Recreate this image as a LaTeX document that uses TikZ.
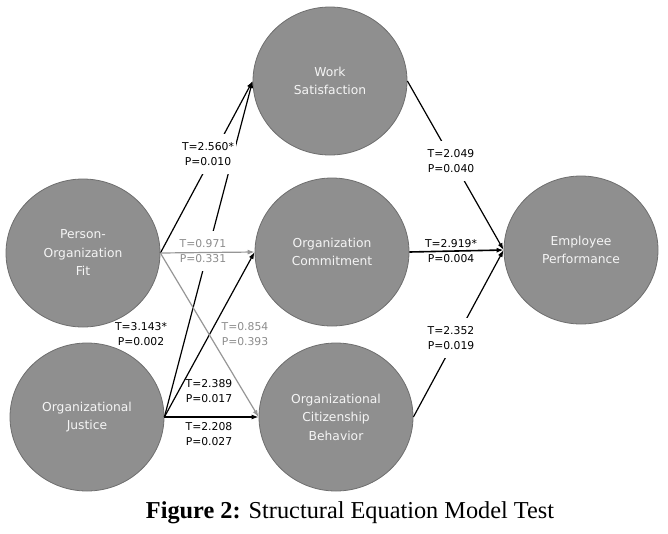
\documentclass[tikz,border=0pt]{standalone}
\usepackage{fontspec}
\setmainfont{Liberation Serif}
\newfontfamily\lblfont{DejaVu Sans}
\usetikzlibrary{shapes.geometric,arrows.meta}
\definecolor{nodefill}{RGB}{143,143,143}
\definecolor{nodeline}{RGB}{110,110,110}
\definecolor{nodetext}{RGB}{245,245,245}
\definecolor{greyline}{RGB}{150,150,150}
\definecolor{greytext}{RGB}{140,140,140}
\tikzset{
  latent/.style={ellipse, draw=nodeline, line width=0.8pt, fill=nodefill,
    minimum width=154pt, minimum height=148pt, inner sep=0pt, align=center,
    text=nodetext, font=\lblfont\fontsize{12.3}{18.5}\selectfont},
  path/.style={line width=1.2pt, -{Latex[length=7pt,width=5pt]}},
  greypath/.style={path, draw=greyline},
  stat/.style={align=center, inner xsep=2pt, inner ysep=1pt,
    font=\lblfont\fontsize{10.8}{15.5}\selectfont},
  gapstat/.style={stat, fill=white, inner ysep=8pt},
}
\begin{document}
\begin{tikzpicture}[x=1pt,y=-1pt]
\useasboundingbox (0,0) rectangle (668,533);
% constructs
\node[latent] (ws)  at (330,81)  {Work\\Satisfaction};
\node[latent] (pof) at (83,253)  {Person-\\Organization\\Fit};
\node[latent] (oc)  at (332,252) {Organization\\Commitment};
\node[latent] (ep)  at (581,250) {Employee\\Performance};
\node[latent] (oj)  at (87,417)  {Organizational\\Justice};
\node[latent] (ocb) at (336,417) {Organizational\\Citizenship\\Behavior};
% black paths
\draw[path] (pof.east) -- (ws.west);
\draw[path] (oj.east) -- (ws.west);
\draw[path] (oj.east) -- (oc.west);
\draw[path, line width=2pt] (oj.east) -- (ocb.west);
\draw[path] (ws.east) -- (ep.west);
\draw[path, line width=1.6pt] (oc.east) -- (ep.west);
\draw[path] (ocb.east) -- (ep.west);
% labels that break the lines
\node[gapstat] (l1) at (208,154) {T=2.560*\\P=0.010};
\node[gapstat, text=greytext] (l2) at (203,251) {T=0.971\\P=0.331};
\node[gapstat] (l5) at (451,161) {T=2.049\\P=0.040};
\node[gapstat] (l7) at (451,338) {T=2.352\\P=0.019};
% grey paths
\draw[greypath] (pof.east) -- (oc.west);
\draw[greypath] (pof.east) -- (ocb.west);
% other labels
\node[stat, text=greytext] (l3) at (245,334) {T=0.854\\P=0.393};
\node[stat] (l4) at (141,334) {T=3.143*\\P=0.002};
\node[stat] (l6) at (451,251) {T=2.919*\\P=0.004};
\node[stat] (l8) at (209,391) {T=2.389\\P=0.017};
\node[stat] (l9) at (209,434) {T=2.208\\P=0.027};
% caption
\node[anchor=base, font=\fontsize{24.3}{29}\selectfont, inner sep=0pt] (cap) at (350,518)
  {\textbf{Figure 2:} Structural Equation Model Test};
\end{tikzpicture}
\end{document}
